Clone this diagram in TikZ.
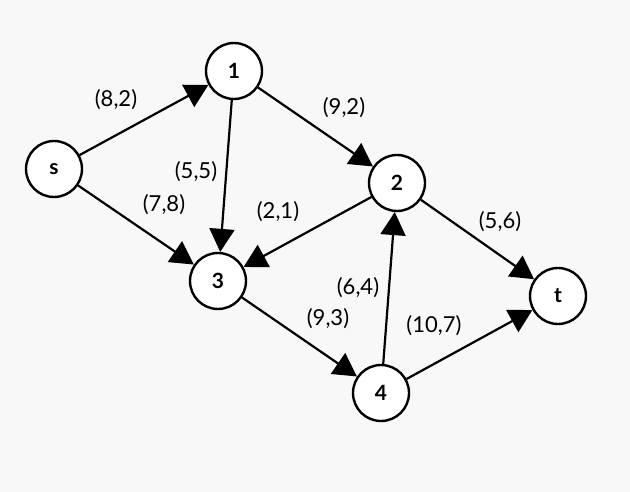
\documentclass[tikz,border=0pt]{standalone}
\usepackage{fontspec}
\setmainfont{Lato}
\usetikzlibrary{arrows.meta}
\definecolor{bg}{HTML}{F8F8F8}
\begin{document}
\begin{tikzpicture}[x=1pt,y=-1pt,
  vertex/.style={circle,draw=black,line width=2.4pt,fill=white,minimum size=56pt,inner sep=0pt,font=\fontsize{21}{21}\selectfont\bfseries},
  edge/.style={line width=2.2pt,-{Triangle[length=23pt,width=25pt]}},
  lab/.style={font=\fontsize{22}{22}\selectfont,inner sep=0pt}]
\fill[bg] (0,0) rectangle (630,492);
\useasboundingbox (0,0) rectangle (630,492);
\node[vertex] (s) at (54,169) {s};
\node[vertex] (n1) at (234,71) {1};
\node[vertex] (n2) at (397,183) {2};
\node[vertex] (n3) at (218,281) {3};
\node[vertex] (n4) at (381,393) {4};
\node[vertex] (t) at (558,296) {t};
\draw[edge] (s) -- (n1);
\draw[edge] (s) -- (n3);
\draw[edge] (n1) -- (n3);
\draw[edge] (n1) -- (n2);
\draw[edge] (n2) -- (n3);
\draw[edge] (n2) -- (t);
\draw[edge] (n3) -- (n4);
\draw[edge] (n4) -- (n2);
\draw[edge] (n4) -- (t);
\node[lab] (l1) at (116,100) {(8,2)};
\node[lab] (l2) at (344,108) {(9,2)};
\node[lab] (l3) at (196,172) {(5,5)};
\node[lab] (l4) at (164,205) {(7,8)};
\node[lab] (l5) at (278,212) {(2,1)};
\node[lab] (l6) at (500,222) {(5,6)};
\node[lab] (l7) at (358,288) {(6,4)};
\node[lab] (l8) at (328,319) {(9,3)};
\node[lab] (l9) at (434,326) {(10,7)};
\end{tikzpicture}
\end{document}
